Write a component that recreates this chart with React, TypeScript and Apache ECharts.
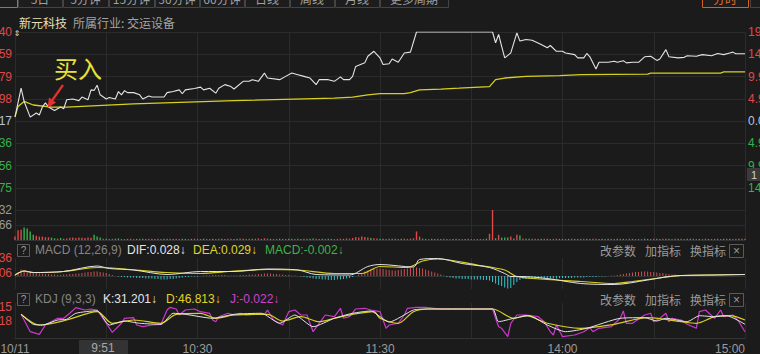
import React, { useEffect, useRef } from "react";
import * as echarts from "echarts";

// ---------- data ----------
const PREV_CLOSE = 16.17;
const LIMIT_UP = 19.4;
const STEP = (LIMIT_UP - PREV_CLOSE) / 4;

// minute index (0 = 9:30, 120 = 11:30/13:00, 240 = 15:00) and price
const priceMinutes = [0,2,3,5,7,8,9,10,11,13,15,16,17,19,21,22,24,25,26,27,28,30,31,33,34,35,36,37,39,41,42,44,45,49,50,52,54,55,56,59,61,62,64,66,67,69,71,72,75,77,78,80,82,83,87,89,91,93,95,97,99,100,103,105,107,108,110,111,112,115,116,118,119,120,121,123,124,126,128,130,132,157,158,159,160,161,163,165,166,168,170,173,175,176,178,180,181,184,185,187,188,189,191,192,195,197,198,200,201,203,205,207,209,211,212,214,215,218,220,221,224,226,229,231,233,235,236,237,240];
const priceValues = [16.31,17.36,16.88,16.31,16.46,16.39,16.68,16.83,16.68,16.55,16.68,16.61,16.94,16.97,16.91,17.04,16.94,17.30,17.28,17.47,17.12,16.97,17.02,16.97,17.24,17.12,17.27,17.20,17.20,17.12,16.97,17.08,17.04,17.04,17.20,17.24,17.30,17.16,17.30,17.35,17.40,17.30,17.36,17.18,17.36,17.49,17.42,17.33,17.61,17.61,17.67,17.61,17.91,17.73,17.67,17.79,17.91,17.85,17.79,17.73,17.49,17.67,17.67,17.61,17.77,17.67,17.67,17.79,18.15,18.28,18.52,18.70,18.58,18.46,18.22,18.25,18.42,18.30,18.64,18.67,19.40,19.40,19.01,19.31,18.88,18.46,18.64,19.37,19.07,19.13,19.10,18.95,18.83,18.91,18.70,18.70,18.64,18.58,18.46,18.46,18.62,18.50,18.06,18.30,18.30,18.34,18.30,18.36,18.28,18.30,18.30,18.50,18.52,18.37,18.42,18.76,18.50,18.46,18.48,18.54,18.52,18.58,18.54,18.62,18.58,18.64,18.67,18.61,18.61];

const avgMinutes = [0,1,3,6,12,17,39,72,105,111,116,120,128,130,133,140,146,156,158,161,168,179,186,208,209,232,233,240];
const avgValues = [16.33,16.70,16.88,16.75,16.67,16.67,16.79,16.91,17.00,17.04,17.12,17.16,17.16,17.20,17.30,17.33,17.36,17.42,17.67,17.73,17.79,17.82,17.85,17.87,17.91,17.91,17.95,17.95];

// volume per minute (lots), 241 values
const volumes = [
  1520,4280,4600,5520,5060,3820,2300,1840,1520,1520,1240,1240,1060,780,600,900,500,700,1000,1060,
  900,1060,1000,900,1060,1000,2300,1530,1060,600,500,400,500,600,700,500,400,500,600,400,
  500,600,500,400,500,600,400,500,400,500,600,500,400,500,400,600,500,400,500,600,
  500,400,600,500,400,500,400,600,500,400,500,600,400,500,700,500,400,500,600,500,
  700,500,800,600,500,400,500,600,500,400,600,500,400,500,400,500,600,500,700,500,
  400,500,400,600,500,400,500,600,500,700,600,900,1300,1100,1600,1300,1100,900,800,700,
  600,500,400,500,600,500,400,500,600,500,600,760,3800,1530,600,500,400,500,400,500,
  400,500,400,300,400,500,400,300,400,500,400,300,400,500,400,600,2750,13332,760,2300,
  1070,1070,1070,1530,700,2300,1990,700,600,500,600,500,400,500,600,500,400,500,600,500,
  500,400,500,600,500,400,500,600,500,400,600,500,400,500,400,600,500,400,500,600,
  500,400,600,500,400,500,400,600,500,400,500,600,400,500,600,500,400,500,600,500,
  400,500,600,500,400,500,400,600,500,400,500,600,400,500,600,500,400,500,600,500,
  600,
];
// u = up (red), d = down (green)
const volumeDirection =
  "uuudddduuuuuddudduuu" +
  "uuuuuuddduduuddudduu" +
  "dudduuduudduduuddudu" +
  "uddudduudduudduduudu" +
  "uduudduduuddudduuddu" +
  "ddudduuuduuuuuuuuduu" +
  "dduudduduuuuuudduddu" +
  "duudduudduuddudduudu" +
  "dddudududduuddudduud" +
  "uddudduudduudduduudu" +
  "duudduudduuddudduudu" +
  "uddudduudduudduduudu" +
  "u";

// MACD (values in 0.001)
const macdHist = [
  2,8,13,12,10,8,7,6,5,5,4,4,3,3,2,2,3,3,4,4,
  5,5,6,7,8,8,9,9,8,7,6,4,2,0,-1,-2,-2,-3,-3,-3,
  -4,-4,-4,-5,-5,-5,-6,-6,-7,-7,-7,-6,-6,-5,-4,-3,-2,-2,-1,-1,
  -1,0,1,1,1,2,2,2,2,2,1,1,1,1,2,2,2,3,3,3,
  4,4,5,5,5,4,4,3,3,2,2,1,1,0,-1,-2,-3,-4,-5,-6,
  -6,-7,-7,-8,-8,-8,-7,-7,-6,-5,-4,-2,0,3,6,9,11,13,14,15,
  15,14,13,12,11,11,12,13,14,15,16,17,17,16,15,13,11,9,7,5,
  3,1,-2,-3,-4,-5,-5,-6,-6,-6,-7,-7,-7,-7,-8,-8,-9,-12,-15,-18,
  -20,-23,-25,-24,-18,-12,-8,-6,-6,-6,-6,-6,-5,-5,-5,-5,-5,-5,-5,-4,
  -4,-4,-4,-4,-3,-3,-3,-3,-2,-2,-2,-2,-1,-1,-1,0,1,1,2,3,
  4,5,6,7,8,8,9,9,9,8,8,7,6,6,5,4,3,3,2,2,
  2,1,1,1,1,1,0,0,0,0,1,1,1,1,0,0,0,0,0,0,
  0,
];
const difMinutes = [0,3,6,16,27,31,39,50,61,72,83,93,99,110,116,120,131,133,139,147,156,161,163,166,175,186,197,208,215,219,230,240];
const difValues = [2,10,7,9,20,15,12,3,9,9,14,12,3,2,19,23,18,33,35,25,17,5,-1,-1,-5,-15,-17,-8,-1,1,2,3];
const deaMinutes = [0,3,6,16,27,34,50,61,72,83,93,105,114,120,129,134,139,152,161,165,175,186,197,203,213,219,240];
const deaValues = [2,10,7,9,17,15,7,5,10,13,12,5,5,19,17,30,34,22,12,-1,-7,-11,-15,-11,-3,1,3];
const macdLabels = [0.006, 0.036];

// KDJ
const kMinutes = [2,6,9,14,17,20,27,31,36,41,48,52,56,65,72,81,87,92,98,105,111,117,120,123,131,136,157,159,164,169,175,181,188,199,207,211,214,221,225,230,234,240];
const kValues = [64.5,43.1,41.6,52.3,53.8,66.7,72.2,41.6,50.2,45.3,43.1,66.7,64.5,56.0,64.5,66.7,45.3,63.0,38.0,56.0,66.7,71.6,59.4,47.9,73.7,75.9,75.9,48.7,56.0,61.5,41.6,27.3,34.6,56.0,57.3,50.2,56.0,48.7,61.5,59.4,61.5,43.1];
const dMinutes = [2,8,17,27,32,39,48,53,61,66,72,83,88,94,100,105,111,118,120,126,131,136,157,164,168,175,186,197,208,219,224,230,235,240];
const dValues = [64.5,41.6,52.3,70.1,45.3,52.3,45.3,64.5,66.7,56.0,63.0,64.5,50.2,59.4,48.7,56.0,64.5,70.1,56.0,45.3,70.1,75.9,75.9,56.0,61.5,45.3,34.6,43.1,57.3,48.7,45.3,59.4,61.5,52.3];
const jMinutes = [2,5,8,10,14,16,18,20,23,25,27,30,32,35,36,39,40,42,45,48,50,51,53,54,56,59,61,64,65,66,67,70,72,74,76,78,82,83,85,88,90,92,94,96,98,100,102,105,107,108,110,112,115,117,120,122,123,126,128,129,132,135,140,157,158,159,160,162,163,165,168,172,174,176,177,178,180,184,187,189,190,192,196,199,200,201,203,207,209,210,212,214,215,216,219,221,224,225,227,230,232,233,236,238,240];
const jValues = [64.5,27.3,21.7,41.6,56.0,56.0,66.7,78.7,73.7,75.9,73.7,45.3,26.0,45.3,56.0,57.3,41.6,38.0,41.6,43.1,73.7,79.5,75.9,63.0,73.7,75.9,70.1,66.7,52.3,48.7,59.4,66.7,63.0,66.7,63.0,64.5,64.5,73.7,52.3,41.6,70.1,73.7,63.0,63.0,27.3,45.3,63.0,59.4,77.4,56.0,59.4,75.9,77.4,73.7,70.1,34.6,41.6,45.3,63.0,77.4,79.5,79.5,75.9,75.9,56.0,38.0,34.6,16.6,45.3,63.0,63.0,59.4,48.7,27.3,20.2,41.6,16.6,20.2,27.3,35.8,27.3,34.6,38.0,56.0,71.6,45.3,45.3,63.0,66.7,48.7,56.0,66.7,48.7,56.0,52.3,43.1,34.6,70.1,73.7,56.0,73.7,59.4,63.0,48.7,27.3];
const kdjLabels = [50.18, 80.15];

// time axis
const timeTicks = [0, 60, 120, 180, 240];
const timeLabels = ["10/11", "10:30", "11:30", "14:00", "15:00"];

// ---------- style ----------
const BG = "#1b1b1b";
const GRID = "#2b2b2b";
const SEP = "#333333";
const RED = "#e04848";
const GREEN = "#35b24a";
const YELLOW = "#d8d020";
const WHITE = "#e4e4e4";
const MAGENTA = "#cc38cc";
const CYAN = "#38c4cc";
const GRAY = "#9a9a9a";
const FONT = "'Liberation Sans', Arial, sans-serif";
const CJK = "'Noto Sans CJK SC', 'Liberation Sans', sans-serif";

function txt(text: string, x: number, y: number, fill: string, size = 12, align = "left", family = CJK) {
  return {
    type: "text",
    x,
    y,
    silent: true,
    z: 100,
    style: {
      text,
      fill,
      font: `${size}px ${family}`,
      textAlign: align,
      textVerticalAlign: "middle",
      align,
      verticalAlign: "middle",
    },
  };
}
function box(x: number, y: number, w: number, h: number, stroke: string, fill = "none") {
  return {
    type: "rect",
    silent: true,
    z: 99,
    shape: { x: x + 0.5, y: y + 0.5, width: w, height: h },
    style: { stroke, fill, lineWidth: 1 },
  };
}

const pair = (ms: number[], vs: number[], f = (v: number) => v) => ms.map((m, i) => [m, f(vs[i])]);

function buildOption() {
  const toStep = (p: number) => (p - PREV_CLOSE) / STEP;
  const priceColor = (val: any) => {
    const v = Number(val);
    return v > 0 ? RED : v < 0 ? GREEN : "#b8c4dc";
  };
  const xAxes = [0, 1, 2, 3].map((i) => ({
    type: "value",
    gridIndex: i,
    min: 0,
    max: 240,
    interval: 30,
    axisLine: { show: i > 0, lineStyle: { color: SEP, width: 1 } },
    axisTick: { show: false },
    splitLine: { show: true, lineStyle: { color: GRID, width: 1 } },
    axisLabel:
      i === 3
        ? {
            show: true,
            customValues: timeTicks,
            formatter: (v: number) => timeLabels[timeTicks.indexOf(Number(v))] ?? "",
            color: GRAY,
            fontSize: 12,
            fontFamily: FONT,
            margin: 5,
            showMinLabel: true,
            showMaxLabel: true,
            alignMaxLabel: "right",
          }
        : { show: false },
  }));

  const gridBase = {
    left: 15,
    right: 15,
    containLabel: false,
    outerBoundsMode: "none",
  };

  const graphic: any[] = [];
  // top tab strip (cut off at the top)
  const tabs = [
    { x: -30, w: 47, label: "", orange: true },
    { x: 18, w: 44, label: "5日" },
    { x: 63, w: 45, label: "5分钟" },
    { x: 109, w: 45, label: "15分钟" },
    { x: 155, w: 44, label: "30分钟" },
    { x: 200, w: 44, label: "60分钟" },
    { x: 245, w: 44, label: "日线" },
    { x: 290, w: 44, label: "周线" },
    { x: 335, w: 44, label: "月线" },
    { x: 380, w: 68, label: "更多周期" },
    { x: 702, w: 46, label: "分时", orange: true },
    { x: 750, w: 40, label: "" },
  ];
  tabs.forEach((t) => {
    graphic.push(box(t.x, -12, t.w, 19, t.orange ? "#d0641e" : "#444444", "#1d1d1d"));
    if (t.label) graphic.push(txt(t.label, t.x + t.w / 2, -2, t.orange ? "#e07030" : "#a0a0a0", 12, "center"));
  });
  // title
  graphic.push(txt("新元科技", 19, 22, "#e6dfb4", 12));
  graphic.push(txt("所属行业: 交运设备", 73, 22, "#a4a4a4", 12));
  graphic.push(txt("⇕", 17, 33, "#dddddd", 8, "center", "'DejaVu Sans'"));
  // 买入 annotation
  graphic.push(txt("买入", 54, 67, "#e8e03c", 24));
  graphic.push({
    type: "line",
    silent: true,
    z: 100,
    shape: { x1: 63, y1: 85, x2: 51, y2: 102 },
    style: { stroke: "#e53030", lineWidth: 2.2 },
  });
  graphic.push({
    type: "polygon",
    silent: true,
    z: 100,
    shape: { points: [[47.5, 108], [56, 102.5], [49, 97.5]] },
    style: { fill: "#e53030" },
  });
  // right side marker
  graphic.push(box(747, 168, 14, 12, "#3c3c3c", "#3a3a3a"));
  graphic.push(txt("1", 754, 174.5, "#cfcfcf", 11, "center", FONT));

  // indicator headers
  const header = (y: number, name: string, items: { t: string; c: string; x: number }[]) => {
    graphic.push(box(17, y - 6, 12, 12, "#5a5a5a"));
    graphic.push(txt("?", 23.5, y + 0.5, "#9a9a9a", 10, "center", FONT));
    graphic.push(txt(name, 35, y, "#858585", 12, "left", FONT));
    items.forEach((it) => graphic.push(txt(it.t, it.x, y, it.c, 12, "left", FONT)));
    graphic.push(txt("改参数", 600, y, "#9a9a9a", 12));
    graphic.push(txt("加指标", 645, y, "#9a9a9a", 12));
    graphic.push(txt("换指标", 690, y, "#9a9a9a", 12));
    graphic.push(box(729, y - 6, 14, 13, "#5a5a5a"));
    graphic.push(txt("×", 736.5, y + 0.5, "#9a9a9a", 12, "center", FONT));
  };
  header(250, "MACD (12,26,9)", [
    { t: "DIF:0.028↓", c: "#e6e6e6", x: 127 },
    { t: "DEA:0.029↓", c: "#e0d428", x: 193 },
    { t: "MACD:-0.002↓", c: "#3cb44a", x: 265 },
  ]);
  header(299, "KDJ (9,3,3)", [
    { t: "K:31.201↓", c: "#e6e6e6", x: 103 },
    { t: "D:46.813↓", c: "#e0d428", x: 166 },
    { t: "J:-0.022↓", c: "#cc44cc", x: 230 },
  ]);
  // crosshair time label
  graphic.push(box(79, 340, 48, 14, "#333333", "#333333"));
  graphic.push(txt("9:51", 103, 347.5, "#a8a8a8", 12, "center", FONT));

  return {
    animation: false,
    backgroundColor: BG,
    textStyle: { fontFamily: FONT },
    grid: [
      { ...gridBase, top: 32, height: 178 },
      { ...gridBase, top: 210, height: 30 },
      { ...gridBase, top: 258, height: 31 },
      { ...gridBase, top: 303, height: 35 },
    ],
    xAxis: xAxes,
    yAxis: [
      {
        type: "value",
        gridIndex: 0,
        min: -4,
        max: 4,
        interval: 1,
        position: "left",
        axisLine: { show: false },
        axisTick: { show: false },
        splitLine: { show: true, lineStyle: { color: GRID } },
        axisLabel: {
          margin: 3,
          fontSize: 12,
          fontFamily: FONT,
          color: priceColor,
          formatter: (v: number) => (v <= -4 ? "" : (PREV_CLOSE + v * STEP).toFixed(2)),
        },
      },
      {
        type: "value",
        gridIndex: 0,
        min: -4,
        max: 4,
        interval: 1,
        position: "right",
        axisLine: { show: false },
        axisTick: { show: false },
        splitLine: { show: false },
        axisLabel: {
          margin: 3,
          fontSize: 12,
          fontFamily: FONT,
          color: priceColor,
          formatter: (v: number) =>
            v <= -4 ? "" : Math.abs(((PREV_CLOSE + v * STEP) / PREV_CLOSE - 1) * 100).toFixed(2) + "%",
        },
      },
      {
        type: "value",
        gridIndex: 1,
        min: 0,
        max: 13332,
        interval: 6666,
        axisLine: { show: false },
        axisTick: { show: false },
        splitLine: { show: true, lineStyle: { color: GRID } },
        axisLabel: {
          margin: 3,
          fontSize: 12,
          fontFamily: FONT,
          color: GRAY,
          formatter: (v: number) => (v === 0 ? "" : String(v)),
        },
      },
      {
        type: "value",
        gridIndex: 2,
        min: -0.026,
        max: 0.036,
        axisLine: { show: false },
        axisTick: { show: false },
        splitLine: { show: false },
        axisLabel: {
          margin: 3,
          fontSize: 12,
          fontFamily: FONT,
          color: RED,
          customValues: macdLabels,
          formatter: (v: number) => Number(v).toFixed(3),
        },
      },
      {
        type: "value",
        gridIndex: 3,
        min: 13.81,
        max: 88.71,
        axisLine: { show: false },
        axisTick: { show: false },
        splitLine: { show: false },
        axisLabel: {
          margin: 3,
          fontSize: 12,
          fontFamily: FONT,
          color: RED,
          customValues: kdjLabels,
          formatter: (v: number) => Number(v).toFixed(2),
        },
      },
    ],
    series: [
      {
        type: "line",
        name: "均价",
        xAxisIndex: 0,
        yAxisIndex: 0,
        data: pair(avgMinutes, avgValues, toStep),
        showSymbol: false,
        symbol: "none",
        lineStyle: { color: YELLOW, width: 1.3 },
      },
      {
        type: "line",
        name: "价格",
        xAxisIndex: 0,
        yAxisIndex: 0,
        data: pair(priceMinutes, priceValues, toStep),
        showSymbol: false,
        symbol: "none",
        lineStyle: { color: WHITE, width: 1.1 },
      },
      {
        type: "bar",
        name: "成交量",
        xAxisIndex: 1,
        yAxisIndex: 2,
        barWidth: 1.4,
        data: volumes.map((v, i) => ({
          value: [i, v],
          itemStyle: { color: volumeDirection[i] === "d" ? GREEN : RED },
        })),
      },
      {
        type: "bar",
        name: "MACD",
        xAxisIndex: 2,
        yAxisIndex: 3,
        barWidth: 1,
        data: macdHist.map((v, i) => ({
          value: [i, v / 1000],
          itemStyle: { color: v >= 0 ? "#d05050" : CYAN },
        })),
      },
      {
        type: "line",
        name: "DEA",
        xAxisIndex: 2,
        yAxisIndex: 3,
        data: pair(deaMinutes, deaValues, (v) => v / 1000),
        showSymbol: false,
        symbol: "none",
        smooth: 0.3,
        lineStyle: { color: YELLOW, width: 1.2 },
      },
      {
        type: "line",
        name: "DIF",
        xAxisIndex: 2,
        yAxisIndex: 3,
        data: pair(difMinutes, difValues, (v) => v / 1000),
        showSymbol: false,
        symbol: "none",
        smooth: 0.3,
        lineStyle: { color: WHITE, width: 1 },
      },
      {
        type: "line",
        name: "J",
        xAxisIndex: 3,
        yAxisIndex: 4,
        data: pair(jMinutes, jValues),
        showSymbol: false,
        symbol: "none",
        lineStyle: { color: MAGENTA, width: 1.2 },
      },
      {
        type: "line",
        name: "D",
        xAxisIndex: 3,
        yAxisIndex: 4,
        data: pair(dMinutes, dValues),
        showSymbol: false,
        symbol: "none",
        smooth: 0.3,
        lineStyle: { color: YELLOW, width: 1.2 },
      },
      {
        type: "line",
        name: "K",
        xAxisIndex: 3,
        yAxisIndex: 4,
        data: pair(kMinutes, kValues),
        showSymbol: false,
        symbol: "none",
        smooth: 0.2,
        lineStyle: { color: WHITE, width: 1 },
      },
    ],
    graphic,
  };
}

export default function App() {
  const ref = useRef<HTMLDivElement>(null);
  useEffect(() => {
    if (!ref.current) return;
    const chart = echarts.init(ref.current, undefined, { renderer: "svg" });
    chart.setOption(buildOption() as any);
    return () => chart.dispose();
  }, []);
  return (
    <div
      ref={ref}
      style={{ position: "fixed", left: 0, top: 0, width: 760, height: 354, background: BG }}
    />
  );
}
